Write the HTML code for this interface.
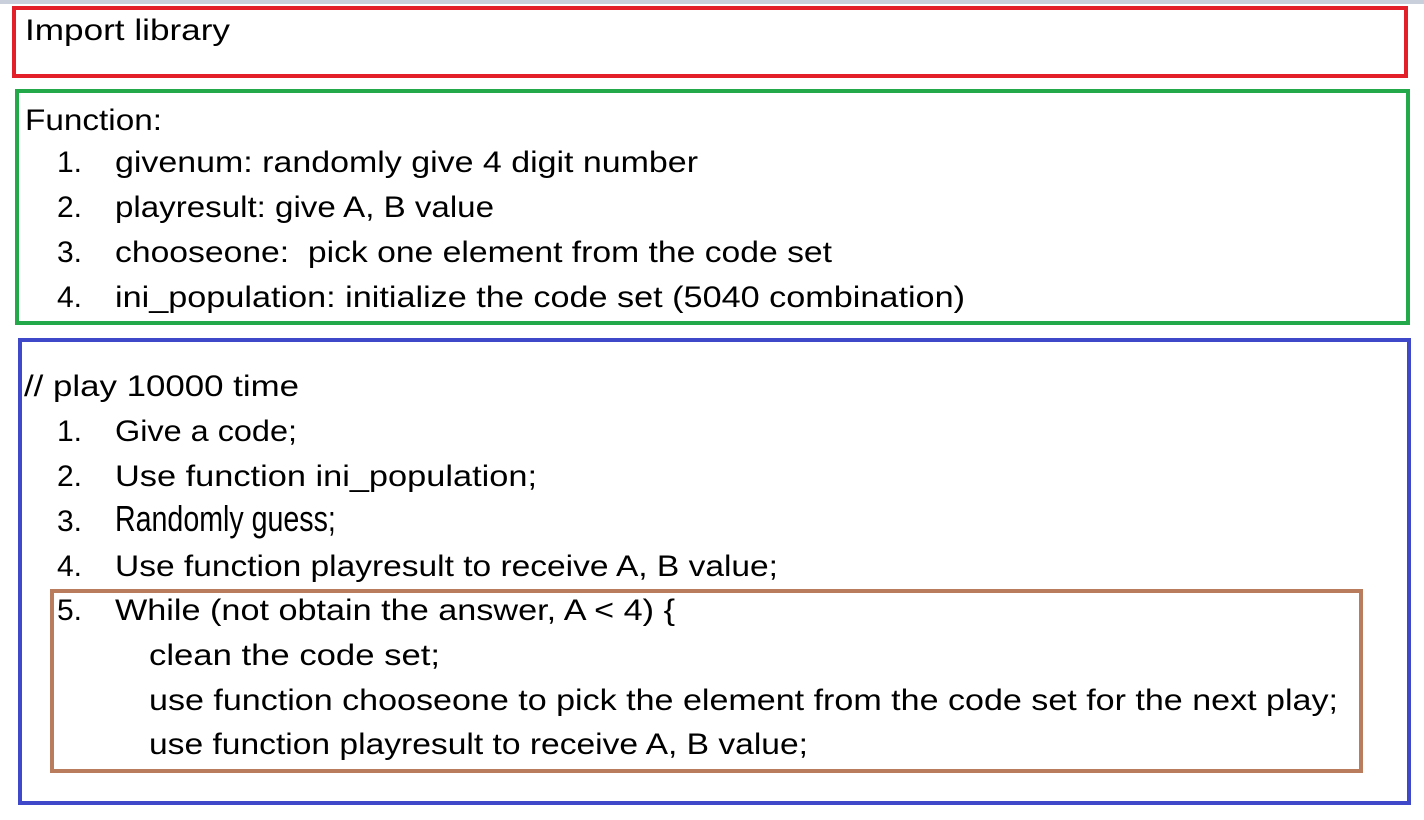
<!DOCTYPE html>
<html><head><meta charset="utf-8"><style>html,body{margin:0;padding:0;background:#fff;width:1424px;height:820px;overflow:hidden}text{font-family:"Liberation Sans",sans-serif;font-size:30px}</style></head>
<body>
<svg width="1424" height="820" xmlns="http://www.w3.org/2000/svg" fill="#000">
<rect x="0" y="0" width="1424" height="4" fill="#c9d0dc"/>
<rect x="14" y="8" width="1392" height="68" fill="none" stroke="#e3202a" stroke-width="4"/>
<rect x="17" y="91" width="1391" height="232" fill="none" stroke="#23a84a" stroke-width="4"/>
<rect x="20" y="340" width="1389" height="463" fill="none" stroke="#3f48c8" stroke-width="4"/>
<rect x="52" y="591" width="1309" height="180" fill="none" stroke="#b97c5d" stroke-width="4"/>
<text x="25" y="40" textLength="205" lengthAdjust="spacingAndGlyphs">Import library</text>
<text x="25" y="130" textLength="137" lengthAdjust="spacingAndGlyphs">Function:</text>
<text x="57" y="172">1.</text><text x="115" y="172" textLength="583" lengthAdjust="spacingAndGlyphs">givenum: randomly give 4 digit number</text>
<text x="57" y="217">2.</text><text x="115" y="217" textLength="379" lengthAdjust="spacingAndGlyphs">playresult: give A, B value</text>
<text x="57" y="262">3.</text><text x="115" y="262" textLength="717" lengthAdjust="spacingAndGlyphs" xml:space="preserve">chooseone:  pick one element from the code set</text>
<text x="57" y="307">4.</text><text x="115" y="307" textLength="850" lengthAdjust="spacingAndGlyphs">ini_population: initialize the code set (5040 combination)</text>
<text x="24" y="396" textLength="275" lengthAdjust="spacingAndGlyphs">// play 10000 time</text>
<text x="57" y="441">1.</text><text x="115" y="441" textLength="182" lengthAdjust="spacingAndGlyphs">Give a code;</text>
<text x="57" y="486">2.</text><text x="115" y="486" textLength="422" lengthAdjust="spacingAndGlyphs">Use function ini_population;</text>
<text x="57" y="531">3.</text>
<g transform="translate(115 531) scale(1.2)"><text x="0" y="0" textLength="184" lengthAdjust="spacingAndGlyphs">Randomly guess;</text></g>
<text x="57" y="576">4.</text><text x="115" y="576" textLength="663" lengthAdjust="spacingAndGlyphs">Use function playresult to receive A, B value;</text>
<text x="57" y="620">5.</text><text x="115" y="620" textLength="560" lengthAdjust="spacingAndGlyphs">While (not obtain the answer, A &lt; 4) {</text>
<text x="149" y="665" textLength="291" lengthAdjust="spacingAndGlyphs">clean the code set;</text>
<text x="149" y="710" textLength="1189" lengthAdjust="spacingAndGlyphs">use function chooseone to pick the element from the code set for the next play;</text>
<text x="149" y="754" textLength="659" lengthAdjust="spacingAndGlyphs">use function playresult to receive A, B value;</text>
</svg>
</body></html>
